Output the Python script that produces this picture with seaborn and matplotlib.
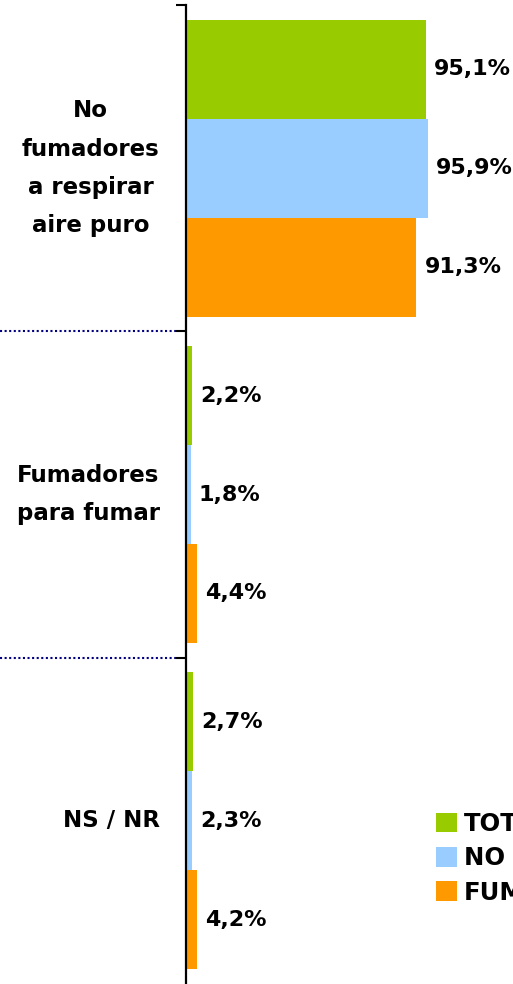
import matplotlib
matplotlib.use("Agg")
import matplotlib.pyplot as plt
import matplotlib.transforms as mtransforms
from matplotlib.patches import Patch
from matplotlib.lines import Line2D
import seaborn as sns
import pandas as pd

categories = ["No\nfumadores\na respirar\naire puro", "Fumadores\npara fumar", "NS / NR"]
series = ["TOTAL", "NO FUMADORES", "FUMADORES"]
total = [95.1, 2.2, 2.7]
no_fumadores = [95.9, 1.8, 2.3]
fumadores = [91.3, 4.4, 4.2]
colors = ["#99CC00", "#99CCFF", "#FF9900"]

rows = []
for s, vals in zip(series, [total, no_fumadores, fumadores]):
    for c, v in zip(categories, vals):
        rows.append({"cat": c, "serie": s, "val": v})
df = pd.DataFrame(rows)

sns.set_style("white")
plt.rcParams["font.family"] = ["DejaVu Sans"]

fig = plt.figure(figsize=(5.13, 9.84), dpi=100)
ax = fig.add_axes([186 / 513, 0.0, 1 - 186 / 513, 1 - 5 / 984])

sns.barplot(data=df, y="cat", x="val", hue="serie", orient="h",
            palette=colors, hue_order=series, order=categories,
            width=0.91, dodge=True, saturation=1, legend=False,
            linewidth=0, edgecolor="none", ax=ax)

ax.set_xlim(0, 129.6)
ax.set_ylim(2.5, -0.5)
ax.set_xlabel("")
ax.set_ylabel("")
ax.set_xticks([])

for sp in ["top", "right", "bottom"]:
    ax.spines[sp].set_visible(False)
ax.spines["left"].set_color("black")
ax.spines["left"].set_linewidth(1.6)

ax.set_yticks(range(len(categories)))
ax.set_yticklabels(categories, fontsize=16.5, fontweight="bold",
                   color="black", multialignment="center", linespacing=1.85)
for lbl in ax.get_yticklabels():
    lbl.set_verticalalignment("center")
ax.tick_params(axis="y", which="major", length=0, pad=19, left=False,
               labelleft=True, labelcolor="black")
ax.set_yticks([-0.5, 0.5, 1.5], minor=True)
ax.tick_params(axis="y", which="minor", left=True, length=7.5, width=1.5,
               color="black", direction="out")

for cont, vals in zip(ax.containers, [total, no_fumadores, fumadores]):
    labels = [f"{v:.1f}%".replace(".", ",") for v in vals]
    ax.bar_label(cont, labels=labels, padding=6, fontsize=16,
                 fontweight="bold", color="black")

trans = mtransforms.blended_transform_factory(fig.transFigure, ax.transData)
for yb in [0.5, 1.5]:
    ax.add_line(Line2D([0, 176 / 513], [yb, yb], transform=trans,
                       color="#000080", linestyle=(0, (1, 1.2)),
                       linewidth=1.5, clip_on=False))

handles = [Patch(facecolor=c, edgecolor="none") for c in colors]
leg = fig.legend(handles, series, loc="upper left",
                 bbox_to_anchor=(424 / 513, 1 - 800 / 984),
                 frameon=False, borderpad=0, handlelength=0.85,
                 handleheight=0.85, handletextpad=0.3, labelspacing=0.42,
                 labelcolor="black",
                 prop={"size": 17.5, "weight": "bold"})

fig.savefig("out.png", dpi=100)
